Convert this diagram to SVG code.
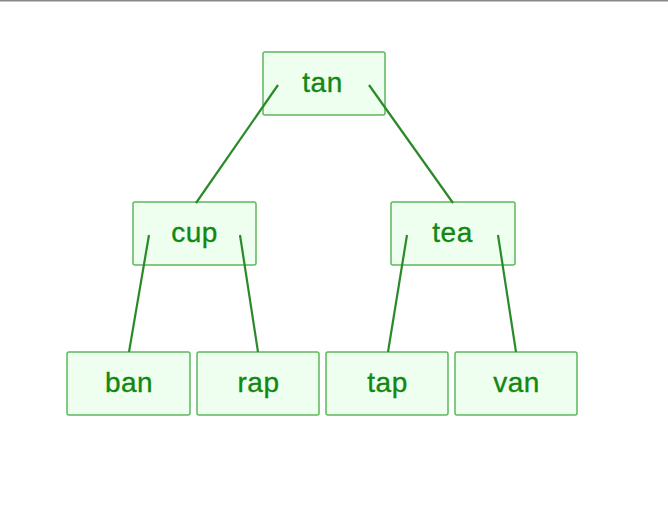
<svg xmlns="http://www.w3.org/2000/svg" width="668" height="508" viewBox="0 0 668 508">
<style>
.n rect{fill:#efffef;stroke:#5cb85c;stroke-width:1.5}
.n text{font-family:"Liberation Sans",Arial,sans-serif;font-size:28px;letter-spacing:0.5px;fill:#118811;stroke:#118811;stroke-width:0.35;text-anchor:middle}
.c line{stroke:#2a8a2a;stroke-width:2.2}
</style>
<rect width="668" height="508" fill="#fff"/>
<line x1="0" y1="0.5" x2="668" y2="0.5" stroke="#888" stroke-width="2"/>
<g id="n-tan" class="n"><rect x="263" y="52" width="122" height="63" rx="2"/><text x="322.5" y="92">tan</text></g>
<g id="n-cup" class="n"><rect x="133" y="202" width="123" height="63" rx="2"/><text x="194.5" y="242">cup</text></g>
<g id="n-tea" class="n"><rect x="391" y="202" width="124" height="63" rx="2"/><text x="452.5" y="242">tea</text></g>
<g id="n-ban" class="n"><rect x="67" y="352" width="123" height="63" rx="2"/><text x="129" y="392">ban</text></g>
<g id="n-rap" class="n"><rect x="197" y="352" width="122" height="63" rx="2"/><text x="258.5" y="392">rap</text></g>
<g id="n-tap" class="n"><rect x="326" y="352" width="122" height="63" rx="2"/><text x="387.5" y="392">tap</text></g>
<g id="n-van" class="n"><rect x="455" y="352" width="122" height="63" rx="2"/><text x="516.5" y="392">van</text></g>
<g id="connectors" class="c">
<line x1="278" y1="85" x2="196" y2="203"/>
<line x1="369" y1="85" x2="453" y2="203"/>
<line x1="149" y1="235" x2="129" y2="352"/>
<line x1="240" y1="235" x2="258" y2="352"/>
<line x1="407" y1="235" x2="388" y2="352"/>
<line x1="498" y1="235" x2="516" y2="352"/>
</g>
</svg>
